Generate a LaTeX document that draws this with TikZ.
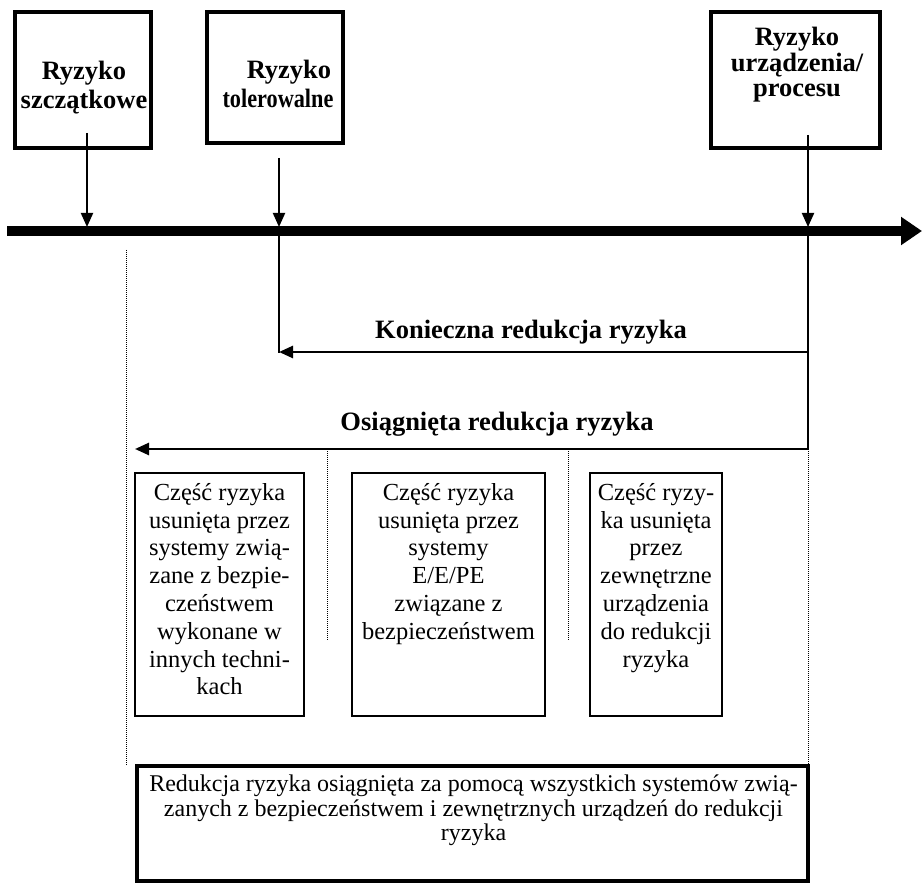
\documentclass[tikz,border=0pt]{standalone}
\usepackage{fontspec}
\setmainfont{Liberation Serif}
\usetikzlibrary{arrows.meta}
\begin{document}
\begin{tikzpicture}[x=1pt,y=-1pt,
  topbox/.style={draw,line width=4pt,inner sep=0pt},
  toptext/.style={font=\fontsize{26.5}{28.5}\selectfont\bfseries,align=center,inner sep=0pt,anchor=north},
  midbox/.style={draw,line width=2.8pt,inner sep=0pt},
  midtext/.style={font=\fontsize{24.5}{27.8}\selectfont,align=center,inner sep=0pt,anchor=north},
  botbox/.style={draw,line width=4pt,inner sep=0pt},
  bottext/.style={font=\fontsize{24}{24.5}\selectfont,align=center,inner sep=0pt,anchor=north},
  headtext/.style={font=\fontsize{26.5}{28}\selectfont\bfseries,inner sep=0pt,anchor=base},
  varrow/.style={line width=2pt,-{Triangle[length=14pt,width=12pt]}},
  harrow/.style={line width=2.5pt,-{Triangle[length=14pt,width=12pt]}},
  axisline/.style={line width=10pt,-{Triangle[length=21pt,width=27pt]}},
  guide/.style={line width=1pt,densely dotted},
  solidline/.style={line width=2pt},
]
\useasboundingbox (0,0) rectangle (923,885);

% top boxes
\node[topbox,minimum width=136pt,minimum height=136pt] (b1) at (83,80) {};
\node[toptext] (t1) at (84,61) {Ryzyko\\szczątkowe};
\node[topbox,minimum width=136pt,minimum height=131pt] (b2) at (275,77.5) {};
\node[toptext] (t2) at (278,60) {\hspace*{22pt}Ryzyko\\\scalebox{0.84}[1]{tolerowalne}};
\node[topbox,minimum width=169pt,minimum height=136pt] (b3) at (795.5,80) {};
\node[toptext,font=\fontsize{26.5}{25.5}\selectfont\bfseries] (t3) at (797,27) {Ryzyko\\urządzenia/\\procesu};

% axis
\coordinate (axL) at (7,231);
\coordinate (axR) at (922,231);
\draw[axisline] (axL) -- (axR);

% vertical arrows onto the axis
\coordinate (a1s) at (87,133);  \coordinate (a1e) at (87,227);
\coordinate (a2s) at (279,158); \coordinate (a2e) at (279,227);
\coordinate (a3s) at (808,135); \coordinate (a3e) at (808,227);
\draw[varrow] (a1s) -- (a1e);
\draw[varrow] (a2s) -- (a2e);
\draw[varrow] (a3s) -- (a3e);

% drop lines below the axis
\coordinate (d2t) at (279,231); \coordinate (d2b) at (279,353);
\coordinate (d3t) at (808,231); \coordinate (d3m) at (808,449); \coordinate (d3b) at (808,766);
\draw[solidline] (d2t) -- (d2b);
\draw[solidline] (d3t) -- (d3m);
\draw[guide] (d3m) -- (d3b);

% left guide
\coordinate (gLt) at (126,250); \coordinate (gLb) at (126,766);
\draw[guide] (gLt) -- (gLb);

% reduction arrows
\coordinate (k1) at (808,352); \coordinate (k2) at (279,352);
\draw[harrow] (k1) -- (k2);
\node[headtext] (kt) at (531,338) {Konieczna redukcja ryzyka};
\coordinate (o1) at (808,449); \coordinate (o2) at (135,449);
\draw[harrow] (o1) -- (o2);
\node[headtext] (ot) at (497,430) {Osiągnięta redukcja ryzyka};

% middle guides
\coordinate (g1t) at (327,449); \coordinate (g1b) at (327,640);
\coordinate (g2t) at (568,449); \coordinate (g2b) at (568,640);
\draw[guide] (g1t) -- (g1b);
\draw[guide] (g2t) -- (g2b);

% middle boxes
\node[midbox,minimum width=169pt,minimum height=243pt] (mA) at (219.5,594.5) {};
\node[midtext] (mAt) at (219.5,483) {Część ryzyka\\usunięta przez\\systemy zwią-\\zane z bezpie-\\czeństwem\\wykonane w\\innych techni-\\kach};
\node[midbox,minimum width=193pt,minimum height=243pt] (mB) at (448.5,594.5) {};
\node[midtext] (mBt) at (448.5,483) {Część ryzyka\\usunięta przez\\systemy\\E/E/PE\\związane z\\bezpieczeństwem};
\node[midbox,minimum width=132pt,minimum height=243pt] (mC) at (656,594.5) {};
\node[midtext] (mCt) at (656,483) {Część ryzy-\\ka usunięta\\przez\\zewnętrzne\\urządzenia\\do redukcji\\ryzyka};

% bottom box
\node[botbox,minimum width=671pt,minimum height=115pt] (bb) at (472.5,823.5) {};
\node[bottext] (bbt) at (473.5,775) {Redukcja ryzyka osiągnięta za pomocą wszystkich systemów zwią-\\zanych z bezpieczeństwem i zewnętrznych urządzeń do redukcji\\ryzyka};
\end{tikzpicture}
\end{document}
